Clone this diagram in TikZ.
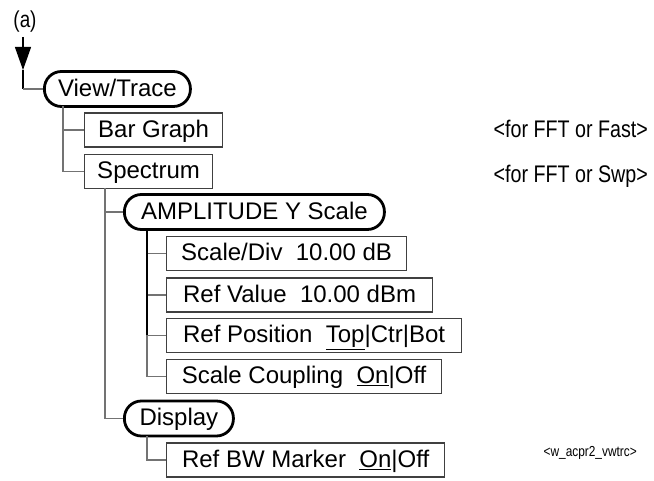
\documentclass[tikz,border=0pt]{standalone}
\usepackage{fontspec}
\setmainfont{Liberation Sans}
\newfontfamily\narrowfont[FakeStretch=0.82]{Liberation Sans}
\usetikzlibrary{arrows.meta}
\tikzset{
  boxtext/.style={inner sep=0pt, anchor=west, text height=19.5pt, text depth=5pt, font=\fontsize{24}{28}\selectfont},
  rbox/.style={boxtext, draw=black, line width=2.8pt, rounded corners=17pt, minimum height=35pt},
  sbox/.style={boxtext, draw=black!75, line width=1.2pt, minimum height=34pt},
  tree/.style={draw=black!55, line width=1.2pt},
  trunk/.style={draw=black, line width=2.2pt},
  note/.style={inner sep=0pt, anchor=east, text height=17.5pt, text depth=5pt, font=\narrowfont\fontsize{24}{28}\selectfont},
}
\newcommand{\ul}[1]{\underline{#1}}
\begin{document}
\begin{tikzpicture}[x=1pt,y=-1pt]
\useasboundingbox (0,0) rectangle (654,481);
% labels
\node[inner sep=0pt, font=\narrowfont\fontsize{23}{26}\selectfont] (lbl) at (25,22) {(a)};
% nodes
\node[rbox, minimum width=146pt] (vt) at (43,89) {View/Trace};
\node[sbox, minimum width=138pt] (bg) at (84,130) {Bar Graph};
\node[sbox, minimum width=128pt] (sp) at (84,171.5) {Spectrum};
\node[rbox, minimum width=260pt] (am) at (123,212) {AMPLITUDE Y Scale};
\node[sbox, minimum width=240pt] (sd) at (166,253.5) {Scale/Div\ \ 10.00 dB};
\node[sbox, minimum width=266pt] (rv) at (166,295) {Ref Value\ \ 10.00 dBm};
\node[sbox, minimum width=295pt] (rp) at (166,335.5) {Ref Position\ \ \ul{Top}|Ctr|Bot};
\node[sbox, minimum width=275pt] (sc) at (166,376.5) {Scale Coupling\ \ \ul{On}|Off};
\node[rbox, minimum width=109pt] (dp) at (123,418.5) {Display};
\node[sbox, minimum width=278pt] (bw) at (166,460) {Ref BW Marker\ \ \ul{On}|Off};
\node[note] (n1) at (648,131) {<for FFT or Fast>};
\node[note] (n2) at (648,176) {<for FFT or Swp>};
\node[note, text height=10pt, text depth=3pt, font=\narrowfont\fontsize{14.5}{16}\selectfont] (n3) at (637,453) {<w\_acpr2\_vwtrc>};
% entry arrow
\coordinate (a0) at (23,37);
\coordinate (a1) at (23,70);
\draw[line width=1.2pt, -{Triangle[length=23pt,width=16pt]}] (a0) -- (a1);
\draw[line width=1.2pt] (a1) -- (a1 |- vt.west);
\draw[tree] (a1 |- vt.west) -- (vt.west);
% tree connectors
\coordinate (t1) at (63,106.5);
\draw[tree] (t1) |- (sp.west);
\draw[tree] (t1 |- bg.west) -- (bg.west);
\coordinate (t2) at (105,188.5);
\draw[tree] (t2) |- (dp.west);
\draw[tree] (t2 |- am.west) -- (am.west);
\coordinate (t3) at (147,229.5);
\draw[tree] (t3) |- (sc.west);
\draw[tree] (t3 |- sd.west) -- (sd.west);
\draw[tree] (t3 |- rv.west) -- (rv.west);
\draw[tree] (t3 |- rp.west) -- (rp.west);
\draw[trunk] (t3) -- (t3 |- rp.west);
\coordinate (t4) at (147,436);
\draw[tree] (t4) |- (bw.west);
\end{tikzpicture}
\end{document}
